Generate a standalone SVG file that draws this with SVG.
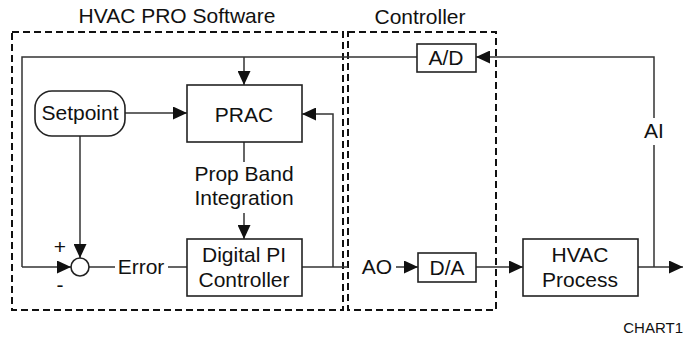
<svg xmlns="http://www.w3.org/2000/svg" width="683" height="337" viewBox="0 0 683 337">
<style>
text{font-family:"Liberation Sans",Arial,sans-serif;font-size:21px;fill:#111;text-anchor:middle}
.box{fill:#fff;stroke:#222;stroke-width:1.6}
.dash{fill:none;stroke:#111;stroke-width:2;stroke-dasharray:7,4}
.ln{fill:none;stroke:#333;stroke-width:1.5}
.ar{marker-end:url(#ah)}
</style>
<defs>
<marker id="ah" markerUnits="userSpaceOnUse" markerWidth="14" markerHeight="13" viewBox="0 0 14 13" refX="14" refY="6.5" orient="auto">
<path d="M0,0 L14,6.5 L0,13 z" fill="#111"/>
</marker>
</defs>
<g id="region-software">
<rect class="dash" x="12" y="32" width="331" height="278"/>
<text x="177" y="23">HVAC PRO Software</text>
</g>
<g id="region-controller">
<rect class="dash" x="348" y="32" width="148" height="278"/>
<text x="420" y="24">Controller</text>
</g>
<g id="connectors">
<path class="ln ar" d="M654,267 V145 M654,118 V57 H476"/>
<path class="ln" d="M417,57 H22 V267"/>
<path class="ln ar" d="M22,267 H71"/>
<path class="ln ar" d="M244,57 V85"/>
<path class="ln ar" d="M125,113 H187"/>
<path class="ln ar" d="M80,136 V258"/>
<path class="ln" d="M244,142 V162"/>
<path class="ln ar" d="M244,213 V239"/>
<path class="ln" d="M89,267 H115 M168,267 H187"/>
<path class="ln" d="M302,267 H348"/>
<path class="ln ar" d="M333,267 V114 H302"/>
<path class="ln ar" d="M396,267 H418"/>
<path class="ln ar" d="M476,267 H523"/>
<path class="ln ar" d="M638,267 H683"/>
</g>
<g id="node-setpoint">
<rect class="box" x="35" y="91" width="90" height="45" rx="17"/>
<text x="80" y="120">Setpoint</text>
</g>
<g id="node-prac">
<rect class="box" x="187" y="85" width="115" height="57"/>
<text x="244" y="122">PRAC</text>
</g>
<g id="label-propband">
<text x="244" y="181">Prop Band</text>
<text x="244" y="205">Integration</text>
</g>
<g id="node-sum">
<circle class="box" cx="80" cy="267" r="9"/>
<text x="60" y="254">+</text>
<text x="60" y="292">-</text>
</g>
<g id="label-error"><text x="141" y="274">Error</text></g>
<g id="node-digitalpi">
<rect class="box" x="187" y="239" width="115" height="57"/>
<text x="244" y="262">Digital PI</text>
<text x="244" y="287">Controller</text>
</g>
<g id="node-ad">
<rect class="box" x="417" y="44" width="59" height="28"/>
<text x="446" y="65">A/D</text>
</g>
<g id="label-ao"><text x="377" y="274">AO</text></g>
<g id="node-da">
<rect class="box" x="418" y="253" width="58" height="29"/>
<text x="447" y="275">D/A</text>
</g>
<g id="node-hvac">
<rect class="box" x="523" y="239" width="115" height="57"/>
<text x="580" y="262">HVAC</text>
<text x="580" y="287">Process</text>
</g>
<g id="label-ai"><text x="654" y="138">AI</text></g>
<text x="683" y="333" style="font-size:15px;text-anchor:end">CHART1</text>
</svg>
